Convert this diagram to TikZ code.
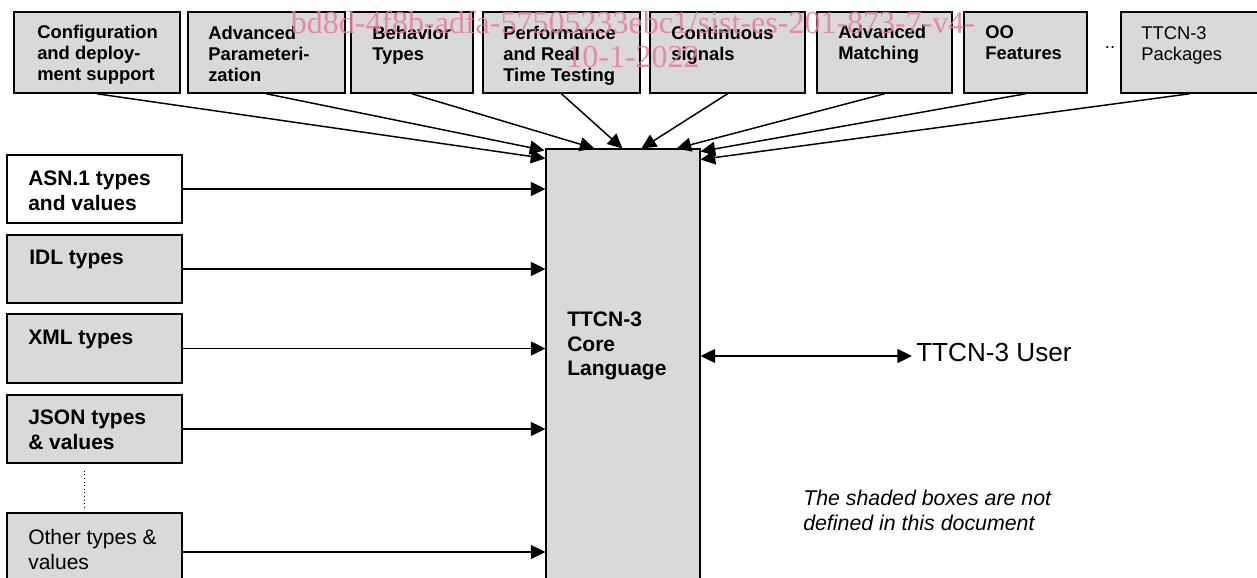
\documentclass[tikz,border=0pt]{standalone}
\usepackage{fontspec}
\setmainfont{Liberation Sans}
\newfontfamily\wmfont{Liberation Serif}
\usetikzlibrary{calc,fit,arrows.meta}
\definecolor{boxgray}{RGB}{217,217,217}
\definecolor{wmpink}{RGB}{230,125,155}

\begin{document}
\begin{tikzpicture}[x=0.75pt,y=-0.75pt,
	topbox/.style={draw,line width=1.2pt,fill=boxgray,inner sep=0pt},
	sidebox/.style={draw,line width=1.1pt,fill=boxgray,inner sep=0pt},
	toptxt/.style={anchor=north west,inner sep=0pt,align=left,font=\fontsize{13.8}{15.75}\selectfont\bfseries},
	sidetxt/.style={anchor=north west,inner sep=0pt,align=left,font=\fontsize{15.75}{18.4}\selectfont\bfseries},
	feed/.style={line width=1.1pt,-{Triangle[length=11pt,width=10.5pt]}},
	both/.style={line width=1.1pt,{Triangle[length=11pt,width=10.5pt]}-{Triangle[length=11pt,width=10.5pt]}}]
		\useasboundingbox (0,0) rectangle (1257,578);
		\clip (0,0) rectangle (1257,578);
		% top row
		\node[topbox,fit={(14,12) (180,93)}] (cfg) {};
		\node[topbox,fit={(188,12) (345,93)}] (apar) {};
		\node[topbox,fit={(351,12) (473,93)}] (beh) {};
		\node[topbox,fit={(483,12) (640,93)}] (perf) {};
		\node[topbox,fit={(650,12) (805,93)}] (cont) {};
		\node[topbox,fit={(817,12) (952,93)}] (amat) {};
		\node[topbox,fit={(964,12) (1087,93)}] (oo) {};
		\node[topbox,fit={(1121,12) (1258,93)}] (pkg) {};
		\node[toptxt] (cfgt) at (37,25) {Configuration\\and deploy-\\ment support};
		\node[toptxt] (apart) at (208,26) {Advanced\\Parameteri-\\zation};
		\node[toptxt] (beht) at (372,26) {Behavior\\Types};
		\node[toptxt] (perft) at (503,26) {Performance\\and Real\\Time Testing};
		\node[toptxt] (contt) at (671,26) {Continuous\\signals};
		\node[toptxt] (amatt) at (838,25) {Advanced\\Matching};
		\node[toptxt] (oot) at (985,25) {OO\\Features};
		\node[toptxt,font=\fontsize{13.8}{15.75}\selectfont] (pkgt) at (1141,26) {TTCN-3\\Packages};
		\node[anchor=base,inner sep=0pt,font=\fontsize{13.8}{15.75}\selectfont] (dots) at (1110,48) {..};
		% core
		\node[draw,line width=0.8pt,fill=boxgray,inner sep=0pt,fit={(546,149) (700,600)}] (core) {};
		\node[sidetxt] (coret) at (567,312) {TTCN-3\\Core\\Language};
		% left column
		\node[sidebox,fill=white,fit={(7,155) (182,223)}] (asn) {};
		\node[sidebox,fit={(7,235) (182,303)}] (idl) {};
		\node[sidebox,fit={(7,314) (182,383)}] (xml) {};
		\node[sidebox,fit={(7,395) (182,463)}] (json) {};
		\node[sidebox,fit={(7,513) (182,591)}] (other) {};
		\node[sidetxt] (asnt) at (28,171) {ASN.1 types\\and values};
		\node[sidetxt] (idlt) at (29,250) {IDL types};
		\node[sidetxt] (xmlt) at (28,330) {XML types};
		\node[sidetxt] (jsont) at (28,410) {JSON types\\\& values};
		\node[sidetxt,font=\fontsize{15.75}{18.4}\selectfont] (othert) at (28,529) {Other types \&\\values};
		\draw[dotted,line width=0.7pt] ($(json.south west)+(78,7)$) -- ($(other.north west)+(78,-5)$);
		% arrows into the core
		\draw[feed] (cfg.south) -- ($(core.north west)+(0,10)$);
		\draw[feed] (apar.south) -- ($(core.north west)+(-1,2)$);
		\draw[feed] (beh.south) -- ($(core.north west)+(49,0)$);
		\draw[feed] (perf.south) -- ($(core.north west)+(77,0)$);
		\draw[feed] (cont.south) -- ($(core.north west)+(96,0)$);
		\draw[feed] (amat.south) -- ($(core.north west)+(131,0)$);
		\draw[feed] (oo.south) -- ($(core.north east)+(0,3)$);
		\draw[feed] (pkg.south) -- ($(core.north east)+(0,11)$);
		\foreach \s in {asn,idl,xml,json,other}
			\draw[feed] (\s.east) -- (\s.east -| core.west);
		% user
		\node[anchor=base west,inner sep=0pt,font=\fontsize{19.6}{22}\selectfont] (user) at (916,361) {TTCN-3 User};
		\coordinate (uend) at ($(user.base west)+(-4,-5)$);
		\draw[both] (uend -| core.east) -- (uend);
		\node[anchor=north west,inner sep=0pt,align=left,font=\fontsize{16}{18.75}\selectfont\itshape] (note) at (803,490) {The shaded boxes are not\\defined in this document};
		% watermark
		\node[anchor=north,inner sep=0pt,align=center,text=wmpink,text opacity=0.85,font=\wmfont\fontsize{24}{25.5}\selectfont] (wm) at (633,11) {bd8d-4f8b-adfa-57505233ebc1/sist-es-201-873-7-v4-\\10-1-2022};
	\end{tikzpicture}
\end{document}
